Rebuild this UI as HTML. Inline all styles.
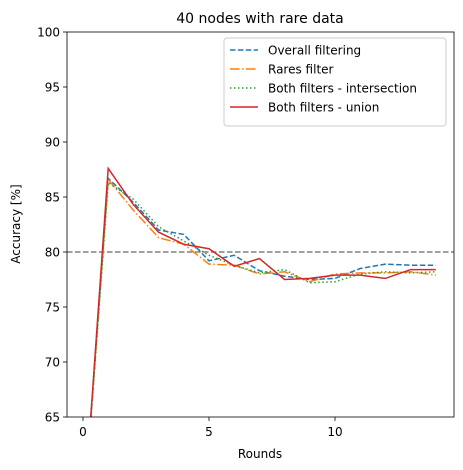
<!DOCTYPE html>
<html><head><meta charset="utf-8"><style>
html,body{margin:0;padding:0;background:#fff;overflow:hidden;width:463px;height:470px;font-family:"Liberation Sans","DejaVu Sans",sans-serif}
svg{display:block}
svg text{font-family:"DejaVu Sans","Liberation Sans",sans-serif}
</style></head><body>
<svg id="chart" width="463" height="470" viewBox="0 0 463 470">
<text x="260" y="23" font-size="14" text-anchor="middle">40 nodes with rare data</text>
<g id="axes"></g>
<g id="series"></g>
<rect x="67" y="32" width="387" height="385" fill="none" stroke="#000" stroke-width="0.8"/>
<text x="260" y="458" font-size="12" text-anchor="middle">Rounds</text>
<text x="20" y="224" font-size="12" text-anchor="middle" transform="rotate(-90 20 224)">Accuracy [%]</text>
<g id="legend"></g>
</svg>
<script>
const rounds=[0,1,2,3,4,5,6,7,8,9,10,11,12,13,14];
const overall=[55,86.7,84.5,82.0,81.6,79.2,79.7,78.3,77.8,77.5,77.6,78.5,78.9,78.8,78.8];
const rares=[55,86.6,83.8,81.3,80.7,78.9,78.8,78.0,78.2,77.3,78.0,78.1,78.1,78.2,77.9];
const inter=[55,86.3,84.8,82.3,81.0,79.7,78.8,78.1,78.4,77.2,77.3,78.0,78.2,78.1,78.2];
const union=[55,87.6,84.3,81.8,80.7,80.3,78.7,79.4,77.5,77.6,77.9,77.9,77.6,78.4,78.4];
const xTicks=[0,5,10];
const yTicks=[65,70,75,80,85,90,95,100];
const baseline=80;
const seriesNames=["Overall filtering","Rares filter","Both filters - intersection","Both filters - union"];
const NS="http://www.w3.org/2000/svg";
const YMIN=65,YMAX=100;
const X=v=>83+v*25.2, Y=v=>417-(v-65)*11;
function mk(t,a,p){const e=document.createElementNS(NS,t);for(const k in a)e.setAttribute(k,a[k]);p.appendChild(e);return e;}
function clipPts(xs,vs){
 const out=[];
 for(let j=0;j<vs.length;j++){
  let x=xs[j],v=vs[j];
  if(v<YMIN||v>YMAX){
   const lim=v<YMIN?YMIN:YMAX;
   const k=j+1<vs.length?j+1:j-1;
   const t=(lim-v)/(vs[k]-v);
   x=x+(xs[k]-x)*t; v=lim;
  }
  out.push(X(x)+','+Y(v));
 }
 return out.join(' ');
}
const ax=document.getElementById('axes');
xTicks.forEach(t=>{
 const l=mk('line',{x1:X(t),x2:X(t),y1:417,y2:421,stroke:'#000','stroke-width':0.8},ax);
 
 
 const tx=mk('text',{x:X(t),y:436,'font-size':12,'text-anchor':'middle'},ax);tx.textContent=t;
 
 
});
yTicks.forEach(t=>{
 const l=mk('line',{x1:63,x2:67,y1:Y(t),y2:Y(t),stroke:'#000','stroke-width':0.8},ax);
 
 
 const tx=mk('text',{x:60,y:Y(t)+4.5,'font-size':12,'text-anchor':'end'},ax);tx.textContent=t;
 
 
});
const sg=document.getElementById('series');
const bl=mk('line',{x1:67,x2:454,y1:Y(baseline),y2:Y(baseline),stroke:'#808080','stroke-width':1.5,'stroke-dasharray':'5.5,2.5'},sg);


const styles=[{c:'#1f77b4',d:'5.5,2.4'},{c:'#ff7f0e',d:'9.6,2.4,1.5,2.4'},{c:'#2ca02c',d:'1.5,2.5'},{c:'#d62728',d:''}];
const data=[overall,rares,inter,union];
const names=['overall-filtering-line','rares-filter-line','intersection-line','union-line'];
data.forEach((s,i)=>{
 const p=mk('polyline',{points:clipPts(rounds,s),fill:'none',stroke:styles[i].c,'stroke-width':1.5,'stroke-dasharray':styles[i].d},sg);
 
 
});
const lg=document.getElementById('legend');
const box=mk('rect',{x:224,y:38,width:222,height:88,rx:3,fill:'#fff',stroke:'#ccc','stroke-width':1},lg);


seriesNames.forEach((n,i)=>{
 const y=50+i*19;
 const l=mk('line',{x1:230,x2:258,y1:y,y2:y,stroke:styles[i].c,'stroke-width':1.5,'stroke-dasharray':styles[i].d},lg);
 
 
 const t=mk('text',{x:268,y:y+4.5,'font-size':12},lg);t.textContent=n;
 
 
});
</script>
</body></html>
